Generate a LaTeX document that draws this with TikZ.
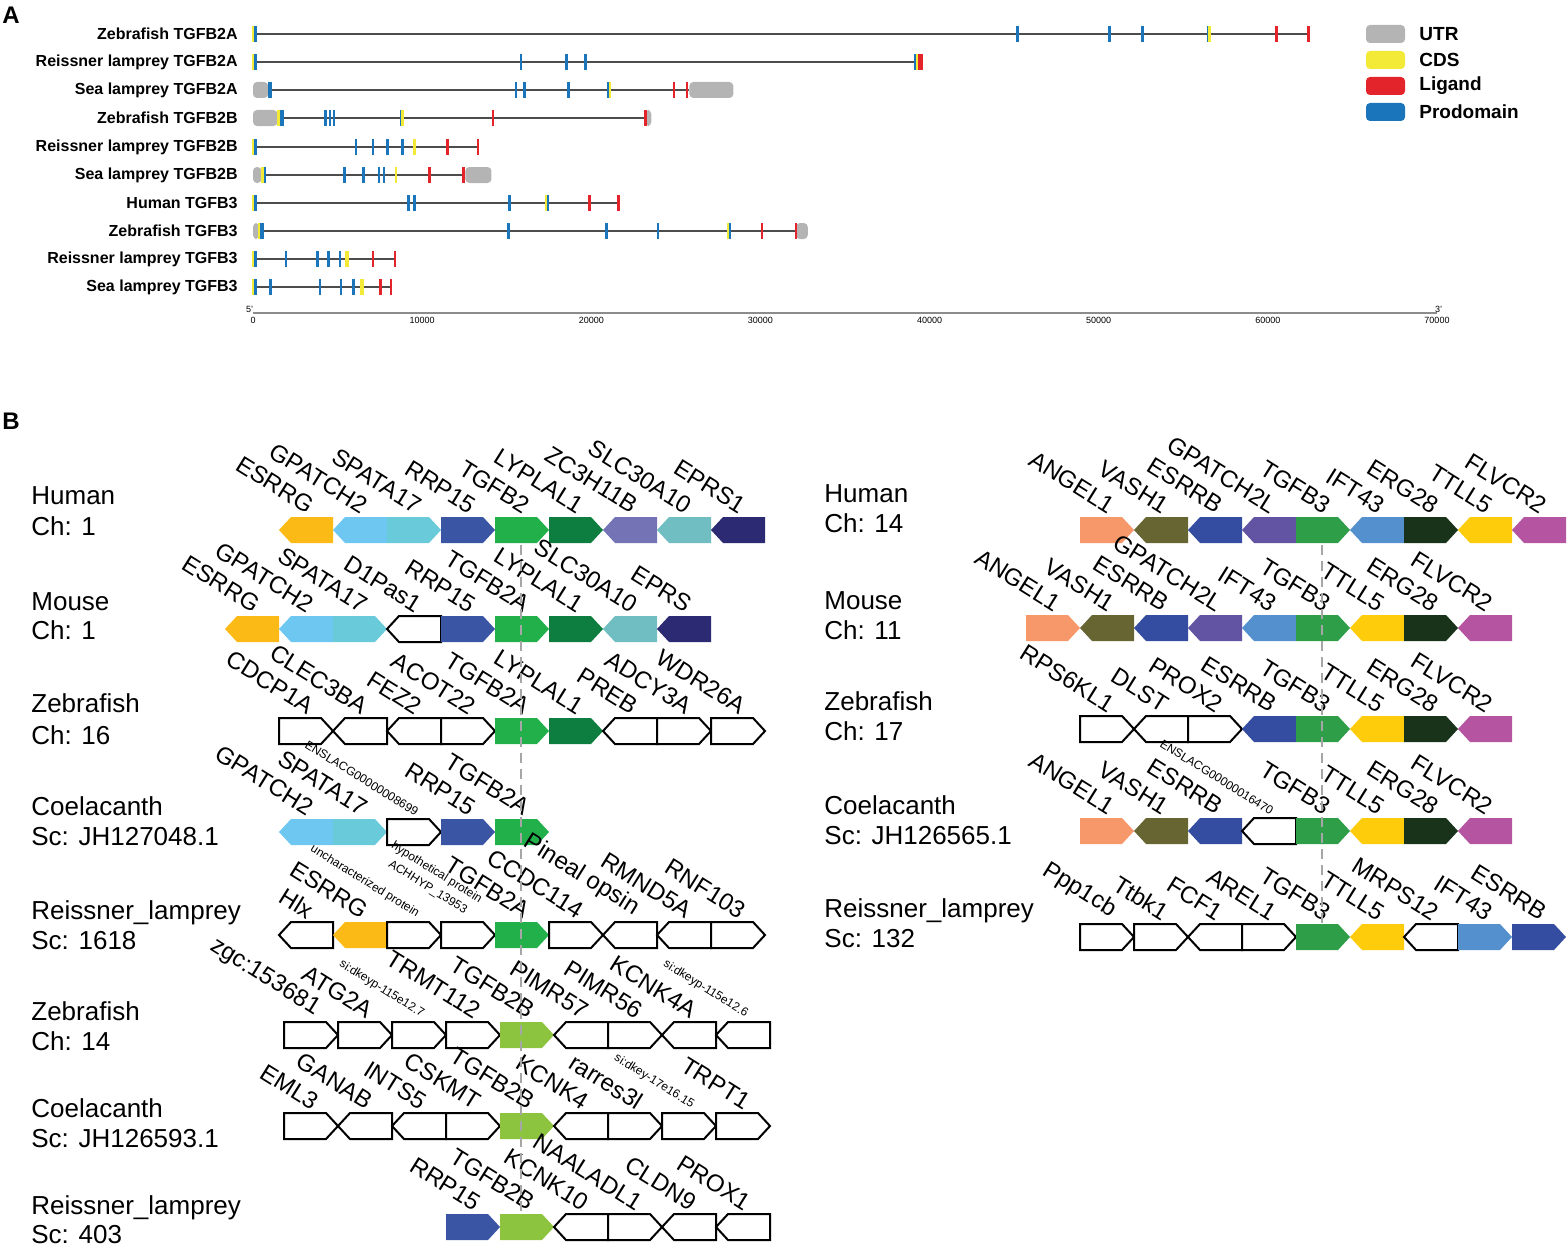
\documentclass[tikz,border=0pt]{standalone}
\usepackage{fontspec}
\setmainfont{Liberation Sans}

% panel A colours
\definecolor{cUTR}{HTML}{B4B4B4}
\definecolor{cCDS}{HTML}{F3EA38}
\definecolor{cLIG}{HTML}{E3242B}
\definecolor{cPRO}{HTML}{1B75BB}
% panel B gene colours
\definecolor{esrrg}{HTML}{FBBA16}
\definecolor{gpatch}{HTML}{6DC7F0}
\definecolor{spata}{HTML}{69CADA}
\definecolor{rrp}{HTML}{3B55A5}
\definecolor{tgfa}{HTML}{22B04B}
\definecolor{lyp}{HTML}{0D7E3F}
\definecolor{zch}{HTML}{7473B5}
\definecolor{slc}{HTML}{70BEC2}
\definecolor{eprs}{HTML}{2C2A72}
\definecolor{tgfb}{HTML}{8CC43F}
\definecolor{angel}{HTML}{F7986B}
\definecolor{vash}{HTML}{676633}
\definecolor{esrrb}{HTML}{344DA0}
\definecolor{gpl}{HTML}{6254A3}
\definecolor{tgfc}{HTML}{2F9E48}
\definecolor{ift}{HTML}{5490CD}
\definecolor{erg}{HTML}{19321A}
\definecolor{ttll}{HTML}{FECC0A}
\definecolor{flv}{HTML}{B554A1}

\newcommand\tinylab{\fontsize{6}{6.5}\selectfont}

\tikzset{
  rowlab/.style={anchor=east,inner sep=0pt,font=\fontsize{8}{9}\selectfont\bfseries},
  leglab/.style={anchor=west,inner sep=0pt,font=\fontsize{9.5}{11}\selectfont\bfseries},
  axlab/.style={anchor=north,inner sep=0pt,font=\fontsize{4.5}{5}\selectfont},
  intron/.style={draw=black!70,line width=0.7pt},
  utrbox/.style={fill=cUTR,rounded corners=2pt},
  exP/.style={draw=cPRO,line width=1.3pt},
  exC/.style={draw=cCDS,line width=1.3pt},
  exL/.style={draw=cLIG,line width=1.3pt},
  wt/.style={fill=white,draw=black,line width=1pt},
  glab/.style={rotate=-32,anchor=south east,inner sep=0pt,font=\fontsize{12}{14}\selectfont},
  side/.style={anchor=base west,inner sep=0pt,font=\fontsize{13}{15}\selectfont},
  guide/.style={draw=black!35,line width=1pt,dash pattern=on 5pt off 3pt}
}

% exon ticks of one transcript
\newcommand\exons[2]{\foreach \p/\s in {#2} \draw[\s] (\p,#1-8) -- (\p,#1+8);}

% one row of genes: name, x of the TGFB cell, y, list k/dir/colour/label
\newcommand\generow[4]{%
  \foreach \k/\d/\c/\t [count=\i] in {#4}{
    \begin{scope}[shift={({#2+54*\k+27},#3)},xscale=\d]
      \path[fill,\c] (-27,-13) -- (15,-13) -- (27,0) -- (15,13) -- (-27,13) -- cycle;
    \end{scope}
    \node[glab] (#1\i) at ({#2+54*\k+28},{#3-15}) {\t};
  }}

\begin{document}
\begin{tikzpicture}[x=0.5pt,y=-0.5pt]
\useasboundingbox (0,0) rectangle (1567,1247);

%% A
\node[anchor=base west,inner sep=0pt,font=\fontsize{12}{14}\selectfont\bfseries] (pa) at (2,24) {A};

\node[rowlab] (r1) at (238,34) {Zebrafish TGFB2A};
\node[rowlab] (r2) at (238,62) {Reissner lamprey TGFB2A};
\node[rowlab] (r3) at (238,90) {Sea lamprey TGFB2A};
\node[rowlab] (r4) at (238,118) {Zebrafish TGFB2B};
\node[rowlab] (r5) at (238,147) {Reissner lamprey TGFB2B};
\node[rowlab] (r6) at (238,175) {Sea lamprey TGFB2B};
\node[rowlab] (r7) at (238,203) {Human TGFB3};
\node[rowlab] (r8) at (238,231) {Zebrafish TGFB3};
\node[rowlab] (r9) at (238,259) {Reissner lamprey TGFB3};
\node[rowlab] (r10) at (238,287) {Sea lamprey TGFB3};

\begin{scope}[shift={(253,0)},xscale=16.914]
\path[utrbox] (0,82) rectangle (0.9,98);
\path[utrbox] (25.8,82) rectangle (28.4,98);
\path[utrbox] (0,110) rectangle (1.45,126);
\path[utrbox] (23.2,110) rectangle (23.55,126);
\path[utrbox] (0,167) rectangle (0.5,183);
\path[utrbox] (12.55,167) rectangle (14.1,183);
\path[utrbox] (0,223) rectangle (0.35,239);
\path[utrbox] (32.1,223) rectangle (32.8,239);

\draw[intron] (0,34) -- (62.4,34);
\draw[intron] (0,62) -- (39.4,62);
\draw[intron] (0.9,90) -- (25.8,90);
\draw[intron] (1.5,118) -- (23.3,118);
\draw[intron] (0,147) -- (13.3,147);
\draw[intron] (0.5,175) -- (12.5,175);
\draw[intron] (0,203) -- (21.6,203);
\draw[intron] (0.35,231) -- (32.1,231);
\draw[intron] (0,259) -- (8.4,259);
\draw[intron] (0,287) -- (8.15,287);

\exons{34}{0/exC,0.15/exP,45.2/exP,50.65/exP,52.6/exP,56.45/exP,56.55/exC,60.5/exL,62.4/exL}
\exons{62}{0/exC,0.15/exP,15.85/exP,18.55/exP,19.65/exP,39.15/exP,39.25/exC,39.4/exL,39.55/exL}
\exons{90}{0.95/exP,1.05/exP,15.55/exP,16.05/exP,18.65/exP,21.0/exP,21.1/exC,24.9/exL,25.65/exL}
\exons{118}{1.5/exC,1.65/exP,1.75/exP,4.3/exP,4.55/exP,4.8/exP,8.75/exP,8.85/exC,14.2/exL,23.2/exL}
\exons{147}{0/exC,0.15/exP,6.1/exP,7.1/exP,7.95/exP,8.85/exP,9.55/exC,11.5/exL,13.3/exL}
\exons{175}{0.55/exC,0.7/exP,5.4/exP,6.55/exP,7.45/exP,7.75/exP,8.45/exC,10.45/exL,12.45/exL}
\exons{203}{0/exC,0.15/exP,9.2/exP,9.55/exP,15.15/exP,17.35/exC,17.45/exP,19.9/exL,21.6/exL}
\exons{231}{0.4/exC,0.5/exP,0.6/exP,15.1/exP,20.9/exP,23.95/exP,28.1/exC,28.2/exP,30.1/exL,32.1/exL}
\exons{259}{0/exC,0.15/exP,1.95/exP,3.8/exP,4.45/exP,5.15/exP,5.5/exC,5.6/exC,7.1/exL,8.4/exL}
\exons{287}{0/exC,0.15/exP,1.05/exP,3.95/exP,5.2/exP,5.95/exP,6.4/exC,6.5/exC,7.55/exL,8.15/exL}

% axis
\coordinate (ax0) at (0,313);
\coordinate (ax1) at (70,313);
\draw[draw=black!45,line width=1pt] (ax0) -- (ax1);
\foreach \v/\l in {0/0,10/10000,20/20000,30/30000,40/40000,50/50000,60/60000,70/70000}
  \node[axlab] (t\v) at (\v,317) {\l};
\node[anchor=south,inner sep=0pt,font=\fontsize{4.5}{5}\selectfont] (five) at (-0.2,313) {5'};
\node[anchor=south,inner sep=0pt,font=\fontsize{4.5}{5}\selectfont] (three) at (70.1,313) {3'};
\end{scope}

% legend
\path[utrbox] (1366,25) rectangle (1405,43);
\path[fill=cCDS,rounded corners=2pt] (1366,51) rectangle (1405,69);
\path[fill=cLIG,rounded corners=2pt] (1366,77) rectangle (1405,95);
\path[fill=cPRO,rounded corners=2pt] (1366,103) rectangle (1405,121);
\node[leglab] (l1) at (1419,34) {UTR};
\node[leglab] (l2) at (1419,60) {CDS};
\node[leglab] (l3) at (1419,86) {Ligand};
\node[leglab] (l4) at (1419,112) {Prodomain};

%% B
\node[anchor=base west,inner sep=0pt,font=\fontsize{12}{14}\selectfont\bfseries] (pb) at (2,429) {B};

\node[side] (s1a) at (31,504) {Human};
\node[side] (s1b) at (31,535) {Ch: 1};
\node[side] (s2a) at (31,610) {Mouse};
\node[side] (s2b) at (31,639) {Ch: 1};
\node[side] (s3a) at (31,712) {Zebrafish};
\node[side] (s3b) at (31,744) {Ch: 16};
\node[side] (s4a) at (31,815) {Coelacanth};
\node[side] (s4b) at (31,845) {Sc: JH127048.1};
\node[side] (s5a) at (31,919) {Reissner\_lamprey};
\node[side] (s5b) at (31,949) {Sc: 1618};
\node[side] (s6a) at (31,1020) {Zebrafish};
\node[side] (s6b) at (31,1050) {Ch: 14};
\node[side] (s7a) at (31,1117) {Coelacanth};
\node[side] (s7b) at (31,1147) {Sc: JH126593.1};
\node[side] (s8a) at (31,1214) {Reissner\_lamprey};
\node[side] (s8b) at (31,1243) {Sc: 403};

\node[side] (q1a) at (824,502) {Human};
\node[side] (q1b) at (824,532) {Ch: 14};
\node[side] (q2a) at (824,609) {Mouse};
\node[side] (q2b) at (824,639) {Ch: 11};
\node[side] (q3a) at (824,710) {Zebrafish};
\node[side] (q3b) at (824,740) {Ch: 17};
\node[side] (q4a) at (824,814) {Coelacanth};
\node[side] (q4b) at (824,844) {Sc: JH126565.1};
\node[side] (q5a) at (824,917) {Reissner\_lamprey};
\node[side] (q5b) at (824,947) {Sc: 132};

\generow{hu}{495}{530}{-4/-1/esrrg/ESRRG,-3/-1/gpatch/GPATCH2,-2/1/spata/SPATA17,-1/1/rrp/RRP15,
  0/1/tgfa/TGFB2,1/1/lyp/LYPLAL1,2/-1/zch/ZC3H11B,3/-1/slc/SLC30A10,4/-1/eprs/EPRS1}
\generow{mo}{495}{629}{-5/-1/esrrg/ESRRG,-4/-1/gpatch/GPATCH2,-3/1/spata/SPATA17,-2/-1/wt/D1Pas1,
  -1/1/rrp/RRP15,0/1/tgfa/TGFB2A,1/1/lyp/LYPLAL1,2/-1/slc/SLC30A10,3/-1/eprs/EPRS}
\generow{zs}{495}{731}{-4/1/wt/CDCP1A,-3/-1/wt/CLEC3BA,-2/-1/wt/FEZ2,-1/1/wt/ACOT22,
  0/1/tgfa/TGFB2A,1/1/lyp/LYPLAL1,2/-1/wt/PREB,3/1/wt/ADCY3A,4/1/wt/WDR26A}
\generow{co}{495}{832}{-4/-1/gpatch/GPATCH2,-3/1/spata/SPATA17,-2/1/wt/\tinylab ENSLACG00000008699,
  -1/1/rrp/RRP15,0/1/tgfa/TGFB2A}
\generow{re}{495}{935}{-4/-1/wt/Hlx,-3/-1/esrrg/ESRRG,-2/1/wt/\tinylab uncharacterized protein,
  -1/1/wt/\tinylab\shortstack{hypothetical protein\\ACHHYP\_13953},0/1/tgfa/TGFB2A,
  1/1/wt/CCDC114,2/-1/wt/Pineal opsin,3/-1/wt/RMND5A,4/1/wt/RNF103}
\generow{zf}{500}{1035}{-4/1/wt/zgc:153681,-3/1/wt/ATG2A,-2/1/wt/\tinylab si:dkeyp-115e12.7,
  -1/1/wt/TRMT112,0/1/tgfb/TGFB2B,1/-1/wt/PIMR57,2/1/wt/PIMR56,3/-1/wt/KCNK4A,
  4/-1/wt/\tinylab si:dkeyp-115e12.6}
\generow{cb}{500}{1126}{-4/1/wt/EML3,-3/-1/wt/GANAB,-2/-1/wt/INTS5,-1/1/wt/CSKMT,
  0/1/tgfb/TGFB2B,1/-1/wt/KCNK4,2/1/wt/rarres3l,3/1/wt/\tinylab si:dkey-17e16.15,4/1/wt/TRPT1}
\generow{rb}{500}{1227}{-1/1/rrp/RRP15,0/1/tgfb/TGFB2B,1/-1/wt/KCNK10,2/1/wt/NAALADL1,
  3/-1/wt/CLDN9,4/-1/wt/PROX1}

\generow{hh}{1296}{530}{-4/1/angel/ANGEL1,-3/-1/vash/VASH1,-2/-1/esrrb/ESRRB,-1/-1/gpl/GPATCH2L,
  0/1/tgfc/TGFB3,1/-1/ift/IFT43,2/1/erg/ERG28,3/-1/ttll/TTLL5,4/-1/flv/FLVCR2}
\generow{mm}{1296}{628}{-5/1/angel/ANGEL1,-4/-1/vash/VASH1,-3/-1/esrrb/ESRRB,-2/-1/gpl/GPATCH2L,
  -1/-1/ift/IFT43,0/1/tgfc/TGFB3,1/-1/ttll/TTLL5,2/1/erg/ERG28,3/-1/flv/FLVCR2}
\generow{zz}{1296}{729}{-4/1/wt/RPS6KL1,-3/-1/wt/DLST,-2/1/wt/PROX2,-1/-1/esrrb/ESRRB,
  0/1/tgfc/TGFB3,1/-1/ttll/TTLL5,2/1/erg/ERG28,3/-1/flv/FLVCR2}
\generow{cc}{1296}{831}{-4/1/angel/ANGEL1,-3/-1/vash/VASH1,-2/-1/esrrb/ESRRB,
  -1/-1/wt/\tinylab ENSLACG00000016470,0/1/tgfc/TGFB3,1/-1/ttll/TTLL5,2/1/erg/ERG28,3/-1/flv/FLVCR2}
\generow{rr}{1296}{937}{-4/1/wt/Ppp1cb,-3/1/wt/Ttbk1,-2/-1/wt/FCF1,-1/1/wt/AREL1,
  0/1/tgfc/TGFB3,1/-1/ttll/TTLL5,2/-1/wt/MRPS12,3/1/ift/IFT43,4/1/esrrb/ESRRB}

% alignment guides
\coordinate (g1) at (521,545);
\coordinate (g2) at (521,1215);
\coordinate (g3) at (1322,545);
\coordinate (g4) at (1322,925);
\draw[guide] (g1) -- (g2);
\draw[guide] (g3) -- (g4);
\end{tikzpicture}
\end{document}
